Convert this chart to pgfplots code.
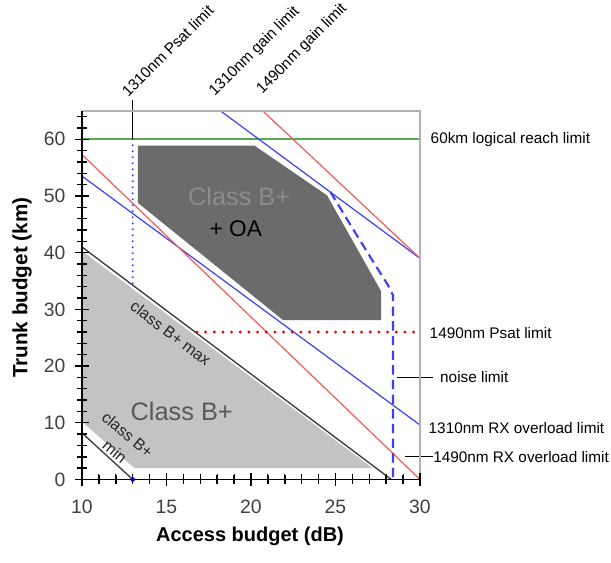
\documentclass[border=0pt]{standalone}
\usepackage{pgfplots}
\pgfplotsset{compat=1.18}
\usepackage{fontspec}
\setmainfont{Liberation Sans}
\newcommand\fs[1]{\fontsize{#1}{#1}\selectfont}
\definecolor{lgray}{HTML}{C3C3C3}
\definecolor{dgray}{HTML}{6B6B6B}
\definecolor{lred}{HTML}{F25A5A}
\definecolor{lblue}{HTML}{3F3FF5}
\definecolor{lgreen}{HTML}{5AAA50}
\definecolor{bline}{HTML}{3A3A3A}
\begin{document}
\begin{tikzpicture}
\useasboundingbox (-61.5pt,-62.6pt) rectangle (396.75pt,359.6pt);
\begin{axis}[
  at={(0,0)}, anchor=south west,
  scale only axis, width=253.5pt, height=276.4pt,
  xmin=10, xmax=30, ymin=0, ymax=65,
  axis x line*=bottom, axis y line*=left,
  axis line style={-, black, line width=0.9pt},
  xtick={10,15,20,25,30}, ytick={0,10,...,60},
  minor xtick={11,12,13,14,16,17,18,19,21,22,23,24,26,27,28,29},
  minor ytick={2,4,6,8,12,14,16,18,22,24,26,28,32,34,36,38,42,44,46,48,52,54,56,58,62,64},
  tick align=center,
  major tick length=10pt, minor tick length=7pt,
  tick style={black, line width=1.1pt},
  axis on top,
  clip=false,
  /pgf/number format/assume math mode=true,
  ticklabel style={font=\fs{14.5}, text=black!75},
  xticklabel style={yshift=-7pt},
  yticklabel style={xshift=-4pt},
]
% fills
\addplot[fill=lgray, draw=none] coordinates {(10,40.3) (27.2,2) (13.1,2) (10,10.2)} -- cycle;
\addplot[fill=dgray, draw=none] coordinates {(13.3,58.9) (20.2,58.9) (24.5,50.1) (27.7,33.2) (27.7,28.1) (21.9,28.1) (13.3,48.8)} -- cycle;
% tick marks
\pgfplotsinvokeforeach{10,15,20,25,30}{\draw[black, line width=0.8pt] ([yshift=-4.5pt]axis cs:#1,0) -- ([yshift=4.5pt]axis cs:#1,0);}
\pgfplotsinvokeforeach{11,12,13,14,16,17,18,19,21,22,23,24,26,27,28,29}{\draw[black, line width=0.7pt] (axis cs:#1,0) -- ([yshift=4pt]axis cs:#1,0);}
\pgfplotsinvokeforeach{0,10,20,30,40,50,60}{\draw[black, line width=0.8pt] ([xshift=-4.5pt]axis cs:10,#1) -- ([xshift=4.5pt]axis cs:10,#1);}
\pgfplotsinvokeforeach{2,4,6,8,12,14,16,18,22,24,26,28,32,34,36,38,42,44,46,48,52,54,56,58,62,64}{\draw[black, line width=0.7pt] (axis cs:10,#1) -- ([xshift=4pt]axis cs:10,#1);}
% lines
\addplot[lgreen, line width=1.8pt] coordinates {(10,60) (30,60)};
\addplot[lblue, line width=0.9pt] coordinates {(18.2,65) (30,39)};
\addplot[lred, line width=0.9pt] coordinates {(20.7,65) (30,39)};
\addplot[lblue, line width=0.9pt] coordinates {(10,53.5) (30,9.6)};
\addplot[lred, line width=0.9pt] coordinates {(10,57.3) (30,0)};
\addplot[bline, line width=1pt] coordinates {(10,41) (28.3,0)};
\addplot[bline, line width=1pt] coordinates {(10,8.2) (13,0)};
\addplot[lblue, line width=1.6pt, line cap=round, dash pattern=on 0pt off 4.5pt] coordinates {(13,60) (13,34.3)};
\addplot[black, line width=0.5pt] coordinates {(13,60) (13,67)};
\addplot[red!90!black, line width=2.4pt, line cap=round, dash pattern=on 0pt off 6.5pt] coordinates {(16.8,26) (30,26)};
\addplot[lblue, line width=1.6pt, dash pattern=on 7pt off 4pt] coordinates {(24.7,50.7) (26.05,44.1) (27.4,37.6) (28.1,34.3) (28.4,32.5) (28.4,0)};
\addplot[only marks, mark=*, mark size=1.5pt, color=blue!70!black] coordinates {(13,0)};
% leaders
\addplot[black, line width=0.5pt] coordinates {(28.65,18) (30.75,18)};
\addplot[black, line width=0.5pt] coordinates {(29.1,4) (30.75,4)};
% frame top/right
\draw[gray!60, line width=0.9pt] (rel axis cs:0,1) -- (rel axis cs:1,1) -- (rel axis cs:1,0);
% labels right
\node[anchor=west, font=\fs{11.5}, inner sep=0pt] at (axis cs:30.62,60) {60km logical reach limit};
\node[anchor=west, font=\fs{11.5}, inner sep=0pt] at (axis cs:30.56,25.8) {1490nm Psat limit};
\node[anchor=west, font=\fs{11.5}, inner sep=0pt] at (axis cs:31.18,18) {noise limit};
\node[anchor=west, font=\fs{11.5}, inner sep=0pt] at (axis cs:30.5,9.15) {1310nm RX overload limit};
\node[anchor=west, font=\fs{11.5}, inner sep=0pt] at (axis cs:30.77,4) {1490nm RX overload limit};
% labels top
\node[anchor=south west, rotate=45, font=\fs{11.5}, inner sep=0pt] at (axis cs:12.75,67.2) {1310nm Psat limit};
\node[anchor=south west, rotate=45, font=\fs{11.5}, inner sep=0pt] at (axis cs:18.0,67) {1310nm gain limit};
\node[anchor=south west, rotate=45, font=\fs{11.5}, inner sep=0pt] at (axis cs:20.8,67.5) {1490nm gain limit};
% region labels
\node[font=\fs{19}, text=black!65] at (axis cs:15.9,12) {Class B+};
\node[font=\fs{19}, text=black!45] at (axis cs:19.3,50) {Class B+};
\node[font=\fs{17}, text=black] at (axis cs:19.1,44.2) {+ OA};
\node[font=\fs{12}, rotate=-37, text=black!85] at (axis cs:15.25,25.8) {class B+ max};
\node[font=\fs{12}, rotate=-40, text=black!85] at (axis cs:12.7,7.9) {class B+};
\node[font=\fs{12}, rotate=-40, text=black!85] at (axis cs:11.95,4.9) {min};
% axis labels
\node[font=\bfseries\fs{15}] at (axis cs:19.94,-10) {Access budget (dB)};
\node[font=\bfseries\fs{15.5}, rotate=90] at (axis cs:6.45,33.8) {Trunk budget (km)};
\end{axis}
\end{tikzpicture}
\end{document}
